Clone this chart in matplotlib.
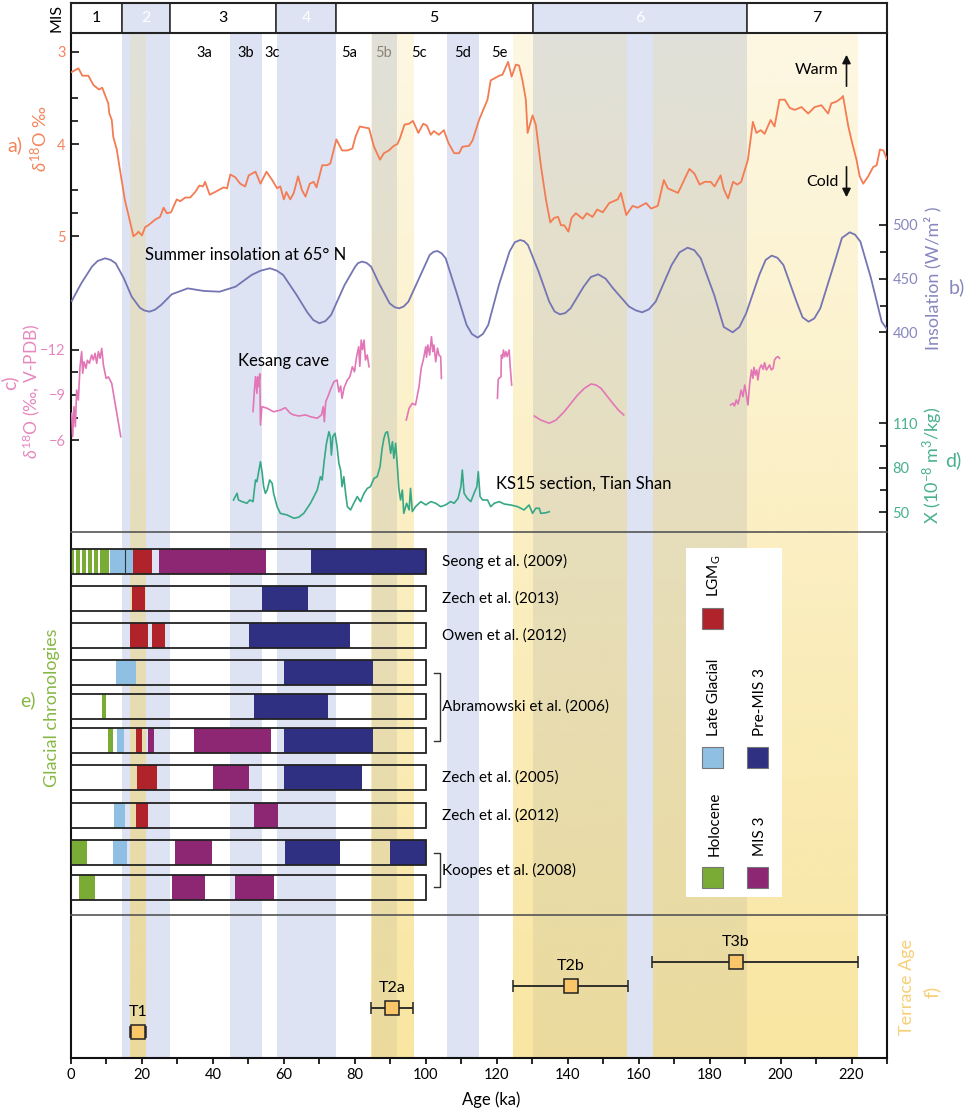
import numpy as np
import matplotlib
matplotlib.use('Agg')
import matplotlib.pyplot as plt
from matplotlib.patches import Rectangle, FancyArrowPatch

plt.rcParams['font.family'] = ['Lato', 'DejaVu Sans']
plt.rcParams['mathtext.fontset'] = 'custom'
plt.rcParams['mathtext.rm'] = 'Lato'
plt.rcParams['mathtext.it'] = 'Lato:italic'
plt.rcParams['mathtext.bf'] = 'Lato:bold'

# ---------------- data ----------------
mis_bounds = [0, 14.3, 28.0, 57.9, 74.6, 130.1, 190.6, 230]
mis_labels = ['1', '2', '3', '4', '5', '6', '7']
mis_cold = [False, True, False, True, False, True, False]

substage_labels = ['3a', '3b', '3c', '5a', '5b', '5c', '5d', '5e']
substage_age = [37.6, 49.3, 56.7, 78.5, 88.0, 98.1, 110.3, 120.7]

blue_bands = [(14.5, 28.0), (44.7, 53.9), (58.0, 74.6), (84.7, 91.8), (106.0, 115.1), (130.1, 190.6)]
yellow_bands = [(16.7, 21.0), (84.5, 96.4), (124.6, 156.7), (164.0, 221.6)]

# a) benthic d18O
d18o_age = [0.2, 2.1, 3.2, 4.9, 6.3, 7.9, 8.8, 10.1, 10.5, 10.8, 11.5, 11.9, 12.9, 13.8, 15.2, 16.2, 17.6, 18.6,
            19.0, 20.0, 20.9, 21.8, 23.7, 25.1, 26.1, 27.0, 28.2, 29.8, 30.8, 32.2, 33.6, 35.0, 36.2, 37.2, 37.8,
            39.1, 41.1, 43.0, 44.0, 44.9, 46.3, 47.7, 49.1, 50.1, 52.0, 53.4, 55.1, 56.7, 58.1, 59.0, 60.0, 60.7,
            61.8, 62.8, 64.0, 65.1, 66.1, 67.3, 68.4, 69.2, 70.8, 72.2, 73.1, 74.8, 76.4, 77.9, 79.3, 80.2, 81.4,
            82.6, 84.0, 85.4, 87.1, 88.2, 89.6, 91.0, 92.0, 92.7, 94.0, 95.3, 96.4, 97.9, 99.3, 100.3, 101.4,
            102.3, 103.7, 105.1, 106.4, 108.0, 109.4, 110.3, 112.2, 113.2, 115.0, 116.4, 117.4, 118.3, 119.3,
            120.7, 121.6, 123.2, 124.2, 125.4, 126.3, 127.3, 128.2, 128.7, 130.1, 131.0, 132.5, 133.9, 135.1,
            136.2, 137.3, 138.1, 139.0, 140.2, 141.1, 142.3, 144.2, 145.4, 147.0, 148.3, 149.9, 151.7, 154.1,
            155.0, 156.5, 158.3, 159.7, 162.1, 163.5, 165.4, 167.1, 168.2, 171.1, 174.3, 175.7, 177.2, 178.6,
            180.3, 181.4, 183.1, 184.0, 185.2, 186.6, 187.8, 188.9, 190.8, 192.2, 193.2, 194.4, 195.5, 197.2,
            198.3, 199.7, 201.2, 202.6, 204.0, 205.9, 207.8, 209.6, 211.5, 213.4, 214.3, 215.8, 217.2, 217.6,
            219.1, 220.0, 221.4, 222.3, 223.3, 224.7, 226.1, 227.1, 228.0, 229.0, 229.9]
d18o_val = [3.22, 3.18, 3.26, 3.26, 3.36, 3.41, 3.39, 3.52, 3.56, 3.67, 3.74, 3.92, 4.06, 4.28, 4.61, 4.77, 5.00, 4.97,
            4.95, 4.99, 4.90, 4.88, 4.82, 4.79, 4.69, 4.75, 4.74, 4.60, 4.62, 4.58, 4.58, 4.52, 4.45, 4.46, 4.41,
            4.55, 4.51, 4.47, 4.48, 4.33, 4.36, 4.43, 4.46, 4.34, 4.30, 4.43, 4.30, 4.39, 4.48, 4.46, 4.60, 4.52,
            4.60, 4.53, 4.35, 4.50, 4.57, 4.43, 4.41, 4.47, 4.23, 4.23, 4.21, 3.95, 4.07, 4.07, 4.05, 3.92, 3.81,
            3.82, 3.83, 4.03, 4.17, 4.10, 4.07, 4.02, 4.00, 3.94, 3.79, 3.78, 3.75, 3.88, 3.78, 3.80, 3.90,
            3.86, 3.90, 3.85, 3.99, 4.10, 4.10, 4.03, 4.02, 3.96, 3.74, 3.61, 3.52, 3.31, 3.29,
            3.26, 3.25, 3.11, 3.27, 3.14, 3.15, 3.32, 3.52, 3.88, 3.69, 3.79, 4.25, 4.61, 4.85,
            4.80, 4.79, 4.88, 4.88, 4.95, 4.80, 4.75, 4.81, 4.75, 4.79, 4.71, 4.74, 4.64, 4.60,
            4.53, 4.77, 4.67, 4.69, 4.64, 4.70, 4.67, 4.39, 4.48, 4.53, 4.27, 4.32, 4.44, 4.41,
            4.41, 4.46, 4.34, 4.49, 4.59, 4.41, 4.44, 4.41, 4.17, 3.76, 3.88, 3.85, 3.89, 3.74,
            3.81, 3.52, 3.52, 3.61, 3.63, 3.60, 3.67, 3.60, 3.58, 3.67, 3.56, 3.54, 3.50, 3.48,
            3.81, 3.96, 4.17, 4.35, 4.43, 4.35, 4.25, 4.23, 4.06, 4.07, 4.16]

# b) summer insolation 65N
insol_age = [0.2, 2.9, 5.9, 7.5, 9.6, 11.2, 12.6, 14.9, 17.1, 19.4, 20.6, 22.1, 23.6, 25.4, 28.4, 32.9, 37.4, 41.9,
             46.4, 50.9, 53.5, 56.1, 58.0, 59.8, 63.6, 66.6, 68.3, 70.0, 71.7, 73.3, 77.1, 80.1, 80.9, 82.0, 83.3,
             84.6, 86.8, 89.8, 91.2, 92.5, 93.8, 95.1, 98.1, 101.1, 102.2, 103.3, 104.5, 105.6, 108.6, 111.5,
             113.0, 114.6, 116.1, 117.6, 120.6, 123.6, 125.1, 126.6, 127.7, 128.8, 131.8, 134.8, 136.3, 137.8,
             139.3, 140.8, 144.5, 146.5, 148.6, 150.7, 152.8, 157.3, 159.2, 161.0, 162.9, 164.8, 169.3, 171.5,
             173.8, 175.7, 177.5, 181.3, 184.0, 186.5, 188.4, 190.3, 194.0, 195.8, 197.5, 199.1, 200.8, 204.5,
             206.2, 207.9, 209.5, 211.2, 215.0, 217.3, 219.5, 221.0, 222.5, 225.5, 228.5, 230.5]
insol_val = [429.2, 445.7, 461.2, 466.5, 469.0, 467.5, 464.3, 450.3, 433.3, 423.0, 420.5, 419.3, 421.0, 425.5, 435.5,
             441.0, 438.6, 437.9, 442.6, 453.5, 457.5, 459.7, 457.5, 453.5, 434.8, 418.7, 411.5, 408.5, 410.5,
             416.2, 444.1, 461.2, 464.5, 465.9, 464.8, 461.2, 445.7, 427.1, 423.5, 422.4, 424.2, 428.6, 450.3,
             472.1, 475.0, 475.8, 473.5, 469.0, 437.9, 406.9, 398.5, 395.1, 398.5, 406.9, 444.1, 475.2, 484.0,
             486.0, 485.0, 481.4, 456.6, 428.6, 419.5, 416.8, 418.0, 422.4, 442.6, 451.5, 454.1, 450.0, 441.0,
             424.0, 420.5, 418.7, 421.5, 428.6, 462.8, 474.5, 478.9, 476.5, 469.0, 434.8, 405.0, 400.1, 405.0,
             417.8, 453.5, 467.5, 471.5, 469.5, 462.8, 428.6, 414.0, 410.0, 413.0, 422.4, 462.8, 488.0, 493.2,
             491.0, 484.5, 450.3, 410.0, 400.7]

# c) Kesang cave speleothem d18O (NaN = gap between records)
nan = np.nan
kesang_age = [0.19, 0.47, 0.85, 1.22, 1.60, 2.07, 2.54, 3.0, 3.3, 3.67, 4.24, 4.61, 5.17, 5.83, 6.3, 6.78, 7.25, 7.72,
              8.19, 8.66, 9.13, 9.6, 9.89, 10.54, 11.48, 12.43, 13.37, 14.03, nan,
              51.3, 51.7, 52.0, 52.4, 52.6, 52.9, 53.2, 53.4, 53.8, 55.3, 57.1, 59.0, 60.4, 61.8, 62.8, 64.2, 66.1,
              67.5, 69.4, 70.6, 71.1, 71.4, 71.8, 72.4, 73.1, 74.1, 75.0, 75.5, 76.0, 76.4, 77.0, 77.9, 78.6, 79.3,
              79.9, 80.5, 81.1, 81.4, 81.8, 82.2, 82.6, 83.0, 83.5, 84.0, nan,
              94.5, 95.3, 96.2, 97.1, 98.1, 98.7, 99.3, 100.0, 100.2, 100.6, 101.1, 101.6, 102.0, 102.3, 102.8,
              103.3, 103.7, 104.2, 104.4, nan,
              120.2, 120.4, 120.6, 121.2, 121.3, 121.6, 121.9, 122.2, 122.6, 122.9, 123.5, 123.8, 124.2, nan,
              130.6, 132.4, 134.8, 136.7, 139.0, 140.9, 142.8, 144.7, 146.6, 148.0, 149.4, 151.1, 152.7, 154.3,
              155.8, nan,
              185.9, 186.6, 187.0, 187.5, 188.0, 188.4, 188.9, 189.4, 189.9, 190.3, 190.8, 191.3, 191.8, 192.2,
              192.5, 192.9, 193.3, 193.6, 194.1, 194.6, 195.1, 195.5, 196.0, 196.5, 196.9, 197.4, 197.9, 198.3,
              198.8, 199.3, 199.7]
kesang_val = [-7.79, -6.24, -8.23, -6.9, -9.33, -8.67, -10.87, -11.87, -10.44, -11.2, -10.77, -11.3, -11.1, -11.65,
              -11.32, -11.76, -11.1, -11.87, -11.43, -12.09, -10.99, -10.43, -10.1, -10.2, -9.77, -8.45, -7.13,
              -6.24, nan,
              -7.9, -9.33, -10.21, -9.11, -10.2, -9.55, -10.4, -7.01, -8.23, -8.12, -7.89, -8.0, -8.16, -7.79,
              -7.68, -7.61, -7.68, -7.56, -7.46, -7.68, -8.23, -7.23, -8.56, -8.89, -9.33, -9.88, -9.99, -9.2,
              -9.6, -8.78, -9.5, -9.99, -10.21, -10.87, -10.54, -11.54, -12.2, -10.9, -12.64, -12.0, -12.64,
              -11.32, -11.65, -10.87, nan,
              -7.34, -8.12, -8.45, -8.34, -9.55, -10.77, -11.32, -12.2, -11.5, -12.31, -11.65, -12.86, -11.87,
              -12.31, -11.2, -12.1, -11.65, -11.54, -10.1, nan,
              -8.78, -9.99, -10.1, -10.21, -11.65, -11.43, -11.98, -11.54, -11.87, -11.54, -11.98, -10.87, -9.66,
              nan,
              -7.61, -7.34, -7.13, -7.34, -7.89, -8.45, -9.0, -9.44, -9.73, -9.66, -9.44, -8.93, -8.45, -8.0,
              -7.68, nan,
              -8.34, -8.45, -8.27, -8.67, -8.40, -8.78, -9.33, -8.89, -9.66, -9.11, -8.34, -9.77, -10.66, -10.1,
              -10.83, -10.32, -10.66, -9.99, -10.77, -10.99, -10.7, -11.14, -10.66, -10.83, -10.99, -10.66, -10.77,
              -11.32, -11.49, -11.54, -11.43]

# d) KS15 magnetic susceptibility
ks15_age = [45.8, 46.8, 47.2, 48.2, 49.6, 50.4, 51.3, 52.0, 52.4, 52.9, 53.4, 53.9, 54.3, 54.8, 55.3, 56.0, 56.7,
            57.1, 58.1, 59.0, 60.9, 62.8, 64.2, 65.6, 67.5, 69.4, 70.3, 70.8, 71.4, 72.0, 72.7, 73.1, 73.4, 73.8,
            74.4, 75.0, 75.5, 76.0, 76.4, 76.9, 77.4, 77.9, 78.8, 79.7, 80.7, 81.6, 82.6, 83.5, 84.4, 85.4, 86.3,
            87.1, 87.7, 88.2, 88.7, 89.2, 89.6, 90.1, 90.6, 91.0, 91.5, 92.0, 92.4, 92.9, 93.4, 93.8, 94.6, 95.3,
            95.7, 96.2, 97.1, 98.6, 100.0, 101.4, 102.8, 104.2, 105.6, 107.0, 108.0, 109.1, 109.9, 110.3, 110.8,
            111.7, 112.7, 113.6, 114.4, 114.8, 115.3, 116.0, 117.4, 118.3, 119.3, 120.7, 122.1, 124.0, 125.9,
            127.7, 129.1, 130.1, 131.0, 132.0, 132.4, 133.9, 134.8]
ks15_val = [58.3, 62.8, 58.3, 57.2, 56.1, 58.3, 57.2, 71.8, 70.6, 77.4, 84.1, 76.3, 67.3, 62.8, 65.0, 71.8, 69.5,
            62.8, 53.8, 49.3, 48.2, 46.0, 46.7, 49.3, 56.1, 65.0, 74.0, 71.8, 85.3, 96.5, 104.3, 101.0, 88.6, 101.0,
            103.3, 94.2, 83.0, 78.5, 67.3, 74.0, 62.8, 53.8, 51.6, 56.1, 60.6, 57.2, 62.8, 66.1, 67.3, 72.9, 74.0,
            80.7, 93.1, 99.9, 103.7, 104.3, 98.8, 89.8, 97.6, 86.4, 96.5, 80.7, 66.1, 58.3, 65.0, 49.3, 56.1, 51.6,
            66.1, 50.5, 53.8, 57.2, 55.0, 57.2, 56.1, 53.8, 55.0, 57.2, 56.1, 59.4, 67.3, 78.5, 62.8,
            59.4, 57.2, 62.8, 67.3, 77.4, 60.6, 58.3, 58.3, 53.8, 56.1, 57.2, 55.6, 54.9, 53.8,
            51.6, 54.9, 49.3, 52.7, 52.7, 49.3, 49.7, 50.4]

# e) glacial chronologies: one list of (start ka, end ka, category) per row
chron_rows = [
    [(0, 0.8, 'hol'), (1.3, 2.6, 'hol'), (3.1, 4.3, 'hol'), (4.8, 6.0, 'hol'), (6.5, 7.7, 'hol'), (8.2, 10.6, 'hol'),
     (11.0, 15.3, 'lg'), (15.3, 17.6, 'lg'), (17.6, 22.8, 'lgm'), (24.9, 55.0, 'mis3'), (67.7, 100, 'pre')],
    [(17.1, 20.8, 'lgm'), (53.9, 66.8, 'pre')],
    [(16.7, 21.7, 'lgm'), (22.9, 26.4, 'lgm'), (50.1, 78.5, 'pre')],
    [(12.8, 18.4, 'lg'), (60.0, 85.0, 'pre')],
    [(8.7, 9.9, 'hol'), (51.7, 72.4, 'pre')],
    [(10.4, 11.8, 'hol'), (13.1, 15.0, 'lg'), (18.4, 20.1, 'lgm'), (21.8, 23.4, 'mis3'), (34.6, 56.4, 'mis3'),
     (60.1, 85.0, 'pre')],
    [(18.6, 24.3, 'lgm'), (39.9, 50.2, 'mis3'), (59.9, 82.1, 'pre')],
    [(12.1, 15.1, 'lg'), (18.2, 21.7, 'lgm'), (51.7, 58.4, 'mis3')],
    [(0, 4.6, 'hol'), (11.9, 15.8, 'lg'), (29.2, 39.8, 'mis3'), (60.2, 75.8, 'pre'), (89.9, 100, 'pre')],
    [(2.3, 6.7, 'hol'), (28.4, 37.9, 'mis3'), (46.1, 57.3, 'mis3')],
]
chron_span = (0, 100)
chron_refs = ['Seong et al. (2009)', 'Zech et al. (2013)', 'Owen et al. (2012)', 'Abramowski et al. (2006)',
              'Zech et al. (2005)', 'Zech et al. (2012)', 'Koopes et al. (2008)']
chron_ref_rows = [[0], [1], [2], [3, 4, 5], [6], [7], [8, 9]]
cat_names = {'hol': 'Holocene', 'lg': 'Late Glacial', 'lgm': r'LGM$_\mathrm{G}$', 'mis3': 'MIS 3', 'pre': 'Pre-MIS 3'}
cat_colors = {'hol': '#7aab35', 'lg': '#8fbfe2', 'lgm': '#b1232b', 'mis3': '#8d2773', 'pre': '#2f3081'}

# f) terrace ages
terrace_names = ['T1', 'T2a', 'T2b', 'T3b']
terrace_age = [19.0, 90.4, 140.9, 187.3]
terrace_lo = [16.5, 84.6, 124.6, 163.8]
terrace_hi = [21.0, 96.5, 156.9, 221.7]

# ---------------- layout (pixels of the 969 x 1112 canvas) ----------------
W, H = 969, 1112
XL, XR = 71, 887
Y_MIS0, Y_TOP, Y_E, Y_F, Y_BOT = 3, 33, 532, 915, 1058
row_y = [561.7, 598.7, 635.5, 672.7, 706.3, 740.8, 777.8, 815.3, 852.8, 887.2]
row_h = 25
terrace_y = [1031.7, 1008.3, 986.0, 961.7]

BLUE = '#dde3f3'
YEL = np.array([245, 213, 98]) / 255.0
C_A, C_B, C_C, C_D = '#f47b52', '#7575b3', '#e276b6', '#37a886'
L_A, L_B, L_C, L_D, L_E, L_F = '#f4845a', '#8787bf', '#e688be', '#48b08f', '#86b845', '#f8cf78'
PERMIL = '\u2030'

fig = plt.figure(figsize=(W / 100, H / 100), dpi=100)


def box(x0, y0, x1, y1):
    return [x0 / W, 1 - y1 / H, (x1 - x0) / W, (y1 - y0) / H]


def P(x, y):
    return (x / W, 1 - y / H)


def ftext(x, y, s, **kw):
    fig.text(x / W, 1 - y / H, s, **kw)


# background axes with bands and x axis
bg = fig.add_axes(box(XL, Y_TOP, XR, Y_BOT))
for a, b in blue_bands:
    bg.axvspan(a, b, color=BLUE, lw=0, zorder=0)
n = 256
alpha = np.linspace(0.18, 0.6, n)
grad = np.zeros((n, 1, 4))
grad[:, 0, :3] = YEL
grad[:, 0, 3] = alpha
for a, b in yellow_bands:
    bg.imshow(grad, extent=[a, b, 0, 1], aspect='auto', origin='upper', zorder=1, interpolation='bilinear')
bg.set_xlim(0, 230)
bg.set_ylim(0, 1)
bg.set_yticks([])
bg.spines['top'].set_visible(False)
for s in ['left', 'right', 'bottom']:
    bg.spines[s].set_linewidth(1.5)
    bg.spines[s].set_color('#111')
bg.set_xticks(range(0, 221, 20))
bg.set_xticks(range(10, 231, 20), minor=True)
bg.tick_params(axis='x', which='both', direction='out', length=4, width=1.2, labelsize=10.5, pad=3)
ftext(491, 1100, 'Age (ka)', ha='center', va='center', fontsize=12)

# MIS header
mis = fig.add_axes(box(XL, Y_MIS0, XR, Y_TOP))
mis.set_xlim(0, 230)
mis.set_ylim(0, 1)
for i in range(len(mis_labels)):
    a, b = mis_bounds[i], mis_bounds[i + 1]
    mis.add_patch(Rectangle((a, 0), b - a, 1, facecolor=BLUE if mis_cold[i] else 'white',
                            edgecolor='#333', lw=1.2))
    mis.text((a + b) / 2, 0.5, mis_labels[i], ha='center', va='center', fontsize=11.5,
             color='white' if mis_cold[i] else 'black')
mis.set_xticks([])
mis.set_yticks([])
for s in mis.spines.values():
    s.set_linewidth(1.5)
    s.set_color('#222')
ftext(57, 18, 'MIS', rotation=90, ha='center', va='center', fontsize=11.5)


def series_axes():
    ax = fig.add_axes(box(XL, Y_TOP, XR, Y_E))
    ax.patch.set_alpha(0)
    ax.set_xlim(0, 230)
    ax.set_xticks([])
    for s in ax.spines.values():
        s.set_visible(False)
    return ax


def ticks(ax, side, major, minor, lc):
    ax.set_yticks(major)
    ax.set_yticks(minor, minor=True)
    if side == 'right':
        ax.yaxis.tick_right()
    ax.tick_params(axis='y', which='both', direction='in', width=1.2, color='#111',
                   labelcolor=lc, labelsize=10.5, pad=4)
    ax.tick_params(axis='y', which='major', length=6)
    ax.tick_params(axis='y', which='minor', length=5)


# a) d18O
ax_a = series_axes()
ax_a.plot(d18o_age, d18o_val, color=C_A, lw=1.3)
ax_a.set_ylim(3 + (Y_E - 51.7) / 92.3, 3 - (51.7 - Y_TOP) / 92.3)
ticks(ax_a, 'left', [3, 4, 5], [3.5, 3.75, 4.5, 4.75], L_A)

# b) insolation
ax_b = series_axes()
ax_b.plot(insol_age, insol_val, color=C_B, lw=1.3)
k = 50 / 53.7
ax_b.set_ylim(500 - (Y_E - 225) * k, 500 + (225 - Y_TOP) * k)
ticks(ax_b, 'right', [400, 450, 500], [425, 475], L_B)

# c) Kesang
ax_c = series_axes()
ax_c.plot(kesang_age, kesang_val, color=C_C, lw=1.2)
ax_c.set_ylim(-12 + (Y_E - 349.7) / 15.1, -12 - (349.7 - Y_TOP) / 15.1)
ticks(ax_c, 'left', [-12, -9, -6], [-10.5, -7.5], L_C)
ax_c.set_yticklabels(['\u221212', '\u22129', '\u22126'])

# d) KS15
ax_d = series_axes()
ax_d.plot(ks15_age, ks15_val, color=C_D, lw=1.2)
k = 30 / 44.5
ax_d.set_ylim(110 - (Y_E - 423.3) * k, 110 + (423.3 - Y_TOP) * k)
ticks(ax_d, 'right', [50, 80, 110], [65, 95], L_D)

# annotations upper panel
for lab, age in zip(substage_labels, substage_age):
    ftext(XL + age * (XR - XL) / 230, 53, lab, ha='center', va='center', fontsize=10.5,
          color='#8c8577' if lab == '5b' else 'black')
ftext(817, 70, 'Warm', ha='center', va='center', fontsize=11.5)
ftext(822, 182, 'Cold', ha='center', va='center', fontsize=11.5)
fig.add_artist(FancyArrowPatch(P(846.5, 89), P(846.5, 52), transform=fig.transFigure,
                               arrowstyle='-|>,head_length=5,head_width=2.5', color='#111', lw=1.2))
fig.add_artist(FancyArrowPatch(P(846.5, 164), P(846.5, 200), transform=fig.transFigure,
                               arrowstyle='-|>,head_length=5,head_width=2.5', color='#111', lw=1.2))
ftext(145, 255, 'Summer insolation at 65\u00b0 N', ha='left', va='center', fontsize=12)
ftext(238, 361, 'Kesang cave', ha='left', va='center', fontsize=12)
ftext(496, 484, 'KS15 section, Tian Shan', ha='left', va='center', fontsize=12)

# axis titles
ftext(15, 145, 'a)', ha='center', va='center', fontsize=14, color=L_A)
ftext(40, 139, '$\\delta^{18}$O ' + PERMIL, rotation=90, ha='center', va='center', fontsize=13, color=L_A)
ftext(9, 383, 'c)', rotation=90, ha='center', va='center', fontsize=14, color=L_C)
ftext(31, 391, '$\\delta^{18}$O (' + PERMIL + ', V-PDB)', rotation=90, ha='center', va='center',
      fontsize=12.5, color=L_C)
ftext(933, 278, 'Insolation (W/m\u00b2 )', rotation=90, ha='center', va='center', fontsize=13, color=L_B)
ftext(957, 287, 'b)', ha='center', va='center', fontsize=14, color=L_B)
ftext(933, 465, r'X (10$^{-8}$ m$^{3}$/kg)', rotation=90, ha='center', va='center', fontsize=13, color=L_D)
ftext(953, 460, 'd)', ha='center', va='center', fontsize=14, color=L_D)
ftext(28, 700, 'e)', ha='center', va='center', fontsize=14, color=L_E)
ftext(52, 708, 'Glacial chronologies', rotation=90, ha='center', va='center', fontsize=13, color=L_E)
ftext(907, 987, 'Terrace Age', rotation=90, ha='center', va='center', fontsize=13, color=L_F)
ftext(932, 992, 'f)', rotation=90, ha='center', va='center', fontsize=14, color=L_F)

# e) chronologies
ax_e = fig.add_axes(box(XL, Y_E, XR, Y_F))
ax_e.patch.set_alpha(0)
ax_e.set_xlim(0, 230)
ax_e.set_ylim(Y_F, Y_E)
ax_e.set_xticks([])
ax_e.set_yticks([])
for s in ['left', 'right', 'bottom']:
    ax_e.spines[s].set_visible(False)
ax_e.spines['top'].set_color('#555')
ax_e.spines['top'].set_linewidth(1.2)
for segs, yc in zip(chron_rows, row_y):
    for a, b, c in segs:
        ax_e.add_patch(Rectangle((a, yc - row_h / 2), b - a, row_h, facecolor=cat_colors[c], lw=0, zorder=2))
    ax_e.add_patch(Rectangle((chron_span[0], yc - row_h / 2), chron_span[1] - chron_span[0], row_h,
                             fill=False, edgecolor='#222', lw=1.3, zorder=3))
# Seong divider between the two Late Glacial stages
yc = row_y[0]
ax_e.plot([chron_rows[0][6][1]] * 2, [yc - row_h / 2, yc + row_h / 2], color='#333', lw=0.8, zorder=3)
for ref, rows in zip(chron_refs, chron_ref_rows):
    ys = [row_y[r] for r in rows]
    ax_e.text(104.5, np.mean(ys), ref, ha='left', va='center', fontsize=11, zorder=4)
    if len(rows) > 1:
        ax_e.plot([102.2, 104.0, 104.0, 102.2], [ys[0], ys[0], ys[-1], ys[-1]], color='#333', lw=1.0)

# legend (rotated)
fig.add_artist(Rectangle(P(686, 897), 96 / W, (897 - 548) / H, transform=fig.transFigure,
                         facecolor='white', edgecolor='none', zorder=5))
leg_items = [('hol', 712.5, 877.5), ('lg', 712.5, 757), ('lgm', 712.5, 618),
             ('mis3', 757.5, 877.5), ('pre', 757.5, 757)]
for c, x, y in leg_items:
    fig.add_artist(Rectangle(P(x - 10.5, y + 10.5), 21 / W, 21 / H, transform=fig.transFigure,
                             facecolor=cat_colors[c], edgecolor='#777', lw=0.8, zorder=6))
    fig.text(x / W + 2 / W, 1 - (y - 21) / H, cat_names[c], rotation=90, ha='center', va='bottom',
             fontsize=11, zorder=7)

# f) terrace ages
ax_f = fig.add_axes(box(XL, Y_F, XR, Y_BOT))
ax_f.patch.set_alpha(0)
ax_f.set_xlim(0, 230)
ax_f.set_ylim(Y_BOT, Y_F)
ax_f.set_xticks([])
ax_f.set_yticks([])
for s in ['left', 'right', 'bottom']:
    ax_f.spines[s].set_visible(False)
ax_f.spines['top'].set_color('#555')
ax_f.spines['top'].set_linewidth(1.2)
tage = np.array(terrace_age)
xerr = np.vstack([tage - np.array(terrace_lo), np.array(terrace_hi) - tage])
ax_f.errorbar(tage, terrace_y, xerr=xerr, fmt='s', ms=10, mfc='#f9c76a', mec='#222', mew=1.1,
              ecolor='#222', elinewidth=1.3, capsize=4, capthick=1.3, zorder=4)
for name, a, y in zip(terrace_names, terrace_age, terrace_y):
    ax_f.annotate(name, (a, y), xytext=(0, 14.5), textcoords='offset points', ha='center', va='center',
                  fontsize=11.5)

fig.savefig('out.png', dpi=100)
